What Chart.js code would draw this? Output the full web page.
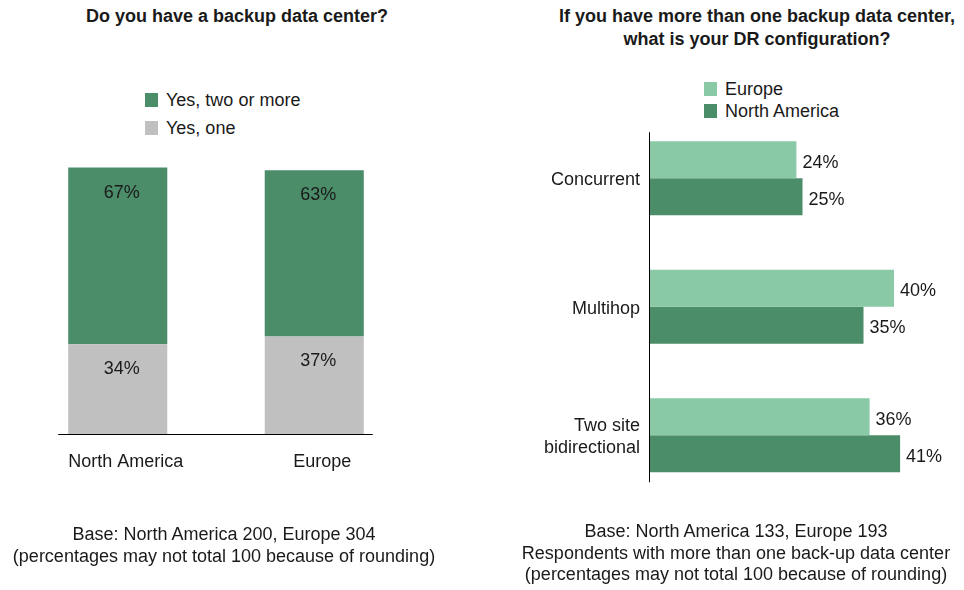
<!DOCTYPE html>
<html>
<head>
<meta charset="utf-8">
<title>Backup data centers</title>
<script src="https://cdn.jsdelivr.net/npm/chart.js@4.4.1/dist/chart.umd.min.js"></script>
<style>
    body { margin: 0; background: #fff; font-family: "Liberation Sans", Arial, sans-serif; color: #1a1a1a; }
    #page { position: relative; width: 964px; height: 590px; overflow: hidden; }
    .box { position: absolute; top: 0; height: 590px; }
    .title { position: absolute; font-weight: bold; font-size: 18px; text-align: center; line-height: 23px; white-space: nowrap; }
    .note { position: absolute; font-size: 18px; text-align: center; line-height: 21.5px; white-space: nowrap; }
    .legend { position: absolute; font-size: 18px; }
    .legend div { line-height: 22px; white-space: nowrap; }
    .legend span.sw { display: inline-block; width: 13px; height: 14px; margin-right: 8px; vertical-align: -1px; }
</style>
</head>
<body>
<div id="page">
    <div class="title" style="left:37px; width:400px; top:5px;">Do you have a backup data center?</div>
    <div class="title" style="left:537px; width:440px; top:5px;">If you have more than one backup data center,<br>what is your DR configuration?</div>

    <div class="legend" id="legendLeft" style="left:145px; top:89px;"></div>
    <div class="legend" id="legendRight" style="left:704px; top:78px;"></div>

    <div class="box" style="left:0; width:480px;"><canvas id="chartLeft"></canvas></div>
    <div class="box" style="left:480px; width:484px;"><canvas id="chartRight"></canvas></div>

    <div class="note" style="left:-2px; width:452px; top:524px;">Base: North America 200, Europe 304<br>(percentages may not total 100 because of rounding)</div>
    <div class="note" style="left:516px; width:440px; top:521px;">Base: North America 133, Europe 193<br>Respondents with more than one back-up data center<br>(percentages may not total 100 because of rounding)</div>
</div>

<script>
// left chart: do you have a backup data center
var regions = ['North America', 'Europe'];
var yesTwoOrMore = [67, 63];
var yesOne = [34, 37];

// right chart: DR configuration
var configs = ['Concurrent', 'Multihop', ['Two site', 'bidirectional']];
var europe = [24, 40, 36];
var northAmerica = [25, 35, 41];

var darkGreen = '#4b8c69';
var lightGreen = '#89c9a5';
var grey = '#c0c0c0';
var ink = '#1a1a1a';
var fontFamily = '"Liberation Sans", Arial, sans-serif';

Chart.defaults.font.family = fontFamily;
Chart.defaults.color = ink;
Chart.defaults.animation = false;

function pct(v) {
    return v + '%';
}

// simple legend built from the datasets
function buildLegend(id, items, rowHeight) {
    var el = document.getElementById(id);
    items.forEach(function(it) {
        var row = document.createElement('div');
        row.style.height = rowHeight + 'px';
        var sw = document.createElement('span');
        sw.className = 'sw';
        sw.style.background = it.backgroundColor;
        row.appendChild(sw);
        row.appendChild(document.createTextNode(it.label));
        el.appendChild(row);
    });
}

// percentage text inside stacked segments, near the top
var stackLabels = {
    id: 'stackLabels',
    afterDatasetsDraw: function(chart) {
        var ctx = chart.ctx;
        ctx.save();
        ctx.font = '18px ' + fontFamily;
        ctx.fillStyle = ink;
        ctx.textAlign = 'center';
        ctx.textBaseline = 'middle';
        chart.data.datasets.forEach(function(ds, i) {
            chart.getDatasetMeta(i).data.forEach(function(bar, j) {
                ctx.fillText(pct(ds.data[j]), bar.x + 4, bar.y + 25);
            });
        });
        ctx.restore();
    }
};

// percentage text to the right of each horizontal bar
var endLabels = {
    id: 'endLabels',
    afterDatasetsDraw: function(chart) {
        var ctx = chart.ctx;
        ctx.save();
        ctx.font = '18px ' + fontFamily;
        ctx.fillStyle = ink;
        ctx.textAlign = 'left';
        ctx.textBaseline = 'middle';
        chart.data.datasets.forEach(function(ds, i) {
            chart.getDatasetMeta(i).data.forEach(function(bar, j) {
                ctx.fillText(pct(ds.data[j]), bar.x + 6, bar.y + 3);
            });
        });
        ctx.restore();
    }
};

// axis line that runs a little past the outer bars only
var shortAxis = {
    id: 'shortAxis',
    afterDatasetsDraw: function(chart) {
        var ctx = chart.ctx;
        var first = chart.getDatasetMeta(0).data;
        var last = chart.getDatasetMeta(chart.data.datasets.length - 1).data;
        var a = first[0], b = last[last.length - 1];
        ctx.save();
        ctx.strokeStyle = '#000';
        ctx.lineWidth = 1;
        ctx.beginPath();
        if (chart.options.indexAxis === 'y') {
            var x = Math.round(chart.chartArea.left) - 0.5;
            ctx.moveTo(x, a.y - a.height / 2 - 9);
            ctx.lineTo(x, b.y + b.height / 2 + 10);
        } else {
            var y = Math.round(chart.chartArea.bottom) + 0.5;
            ctx.moveTo(a.x - a.width / 2 - 10, y);
            ctx.lineTo(b.x + b.width / 2 + 9, y);
        }
        ctx.stroke();
        ctx.restore();
    }
};

var leftData = {
    labels: regions,
    datasets: [{
        label: 'Yes, one',
        data: yesOne,
        backgroundColor: grey
    }, {
        label: 'Yes, two or more',
        data: yesTwoOrMore,
        backgroundColor: darkGreen
    }]
};

new Chart(document.getElementById('chartLeft'), {
    type: 'bar',
    data: leftData,
    options: {
        responsive: true,
        maintainAspectRatio: false,
        layout: { padding: { left: 19.5, right: 67.5, top: 157, bottom: 96 } },
        datasets: { bar: { categoryPercentage: 1, barPercentage: 0.504, clip: false } },
        plugins: { legend: { display: false }, tooltip: { enabled: false } },
        scales: {
            x: {
                stacked: true,
                grid: { display: false, drawTicks: false },
                border: { display: false },
                ticks: { padding: 17, labelOffset: 8, font: { size: 18 }, color: ink },
                afterFit: function(s) { s.height = 60; }
            },
            y: { stacked: true, display: false, min: 0, max: 105 }
        }
    },
    plugins: [stackLabels, shortAxis]
});

buildLegend('legendLeft', [leftData.datasets[1], leftData.datasets[0]], 28);

var rightData = {
    labels: configs,
    datasets: [{
        label: 'Europe',
        data: europe,
        backgroundColor: lightGreen
    }, {
        label: 'North America',
        data: northAmerica,
        backgroundColor: darkGreen
    }]
};

new Chart(document.getElementById('chartRight'), {
    type: 'bar',
    data: rightData,
    options: {
        indexAxis: 'y',
        responsive: true,
        maintainAspectRatio: false,
        layout: { padding: { left: 0, right: 9, top: 114, bottom: 90.5 } },
        datasets: { bar: { categoryPercentage: 0.576, barPercentage: 1 } },
        plugins: { legend: { display: false }, tooltip: { enabled: false } },
        scales: {
            x: { display: false, min: 0, max: 50 },
            y: {
                grid: { display: false, drawTicks: false },
                border: { display: false },
                ticks: { padding: 10, labelOffset: 2, font: { size: 18, lineHeight: 1.25 }, color: ink },
                afterFit: function(s) { s.width = 170; }
            }
        }
    },
    plugins: [endLabels, shortAxis]
});

buildLegend('legendRight', rightData.datasets, 22);
</script>
</body>
</html>
